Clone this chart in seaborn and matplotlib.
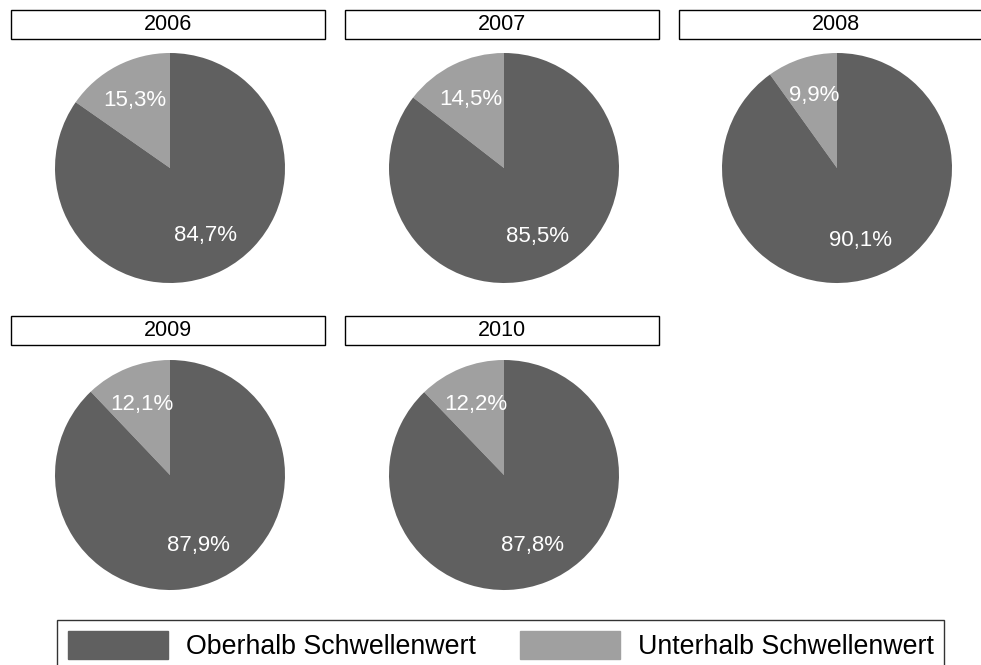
import matplotlib
matplotlib.use("Agg")
import matplotlib.pyplot as plt
import matplotlib.patches as mpatches
import seaborn as sns

# data
years = ['2006', '2007', '2008', '2009', '2010']
oberhalb = [84.7, 85.5, 90.1, 87.9, 87.8]
unterhalb = [15.3, 14.5, 9.9, 12.1, 12.2]
categories = ['Oberhalb Schwellenwert', 'Unterhalb Schwellenwert']

W, H = 981, 665


def fmt(v):
    return ('%.1f%%' % v).replace('.', ',')


def main():
    sns.set_style('white')
    plt.rcParams['font.family'] = ['Liberation Sans', 'DejaVu Sans']
    colors = ['#606060', '#a0a0a0']

    fig = plt.figure(figsize=(W / 100, H / 100), dpi=100)

    # pixel layout of the 2x3 grid
    cx = [170, 504, 837]
    cy = [168, 475]
    r = 115
    box_left = [11, 345, 679]
    box_top = [10, 316]
    box_w, box_h = 314, 29

    for i, year in enumerate(years):
        row, col = divmod(i, 3)
        x0, y0 = cx[col], cy[row]
        ax = fig.add_axes([(x0 - r) / W, (H - y0 - r) / H, 2 * r / W, 2 * r / H])
        vals = [unterhalb[i], oberhalb[i]]
        ax.pie(vals, colors=[colors[1], colors[0]], startangle=90,
               counterclock=True, labels=[fmt(v) for v in vals],
               labeldistance=0.66,
               wedgeprops=dict(linewidth=0, edgecolor='none'),
               textprops=dict(color='white', fontsize=16,
                              ha='center', va='center'))
        ax.set_xlim(-1, 1)
        ax.set_ylim(-1, 1)
        ax.set_aspect('equal')
        ax.axis('off')

        # facet title box
        bx, by = box_left[col], box_top[row]
        rect = mpatches.Rectangle((bx / W, (H - by - box_h) / H), box_w / W, box_h / H,
                                  transform=fig.transFigure, facecolor='white',
                                  edgecolor='black', linewidth=1, clip_on=False)
        fig.patches.append(rect)
        fig.text((bx + box_w / 2) / W, (H - by - box_h / 2) / H, year,
                 ha='center', va='center', fontsize=15.5, color='black')

    handles = [mpatches.Patch(color=colors[0], label=categories[0]),
               mpatches.Patch(color=colors[1], label=categories[1])]
    leg = fig.legend(handles=handles, loc='upper left', ncol=2,
                     bbox_to_anchor=(57 / W, (H - 620) / H), fontsize=19.3,
                     frameon=True, fancybox=False, edgecolor='black',
                     labelcolor='black',
                     handlelength=3.75, handleheight=1.25, columnspacing=1.65,
                     handletextpad=0.65, borderpad=0.4, borderaxespad=0)
    leg.get_frame().set_linewidth(1)

    fig.savefig('out.png', dpi=100)


if __name__ == "__main__":
    main()
